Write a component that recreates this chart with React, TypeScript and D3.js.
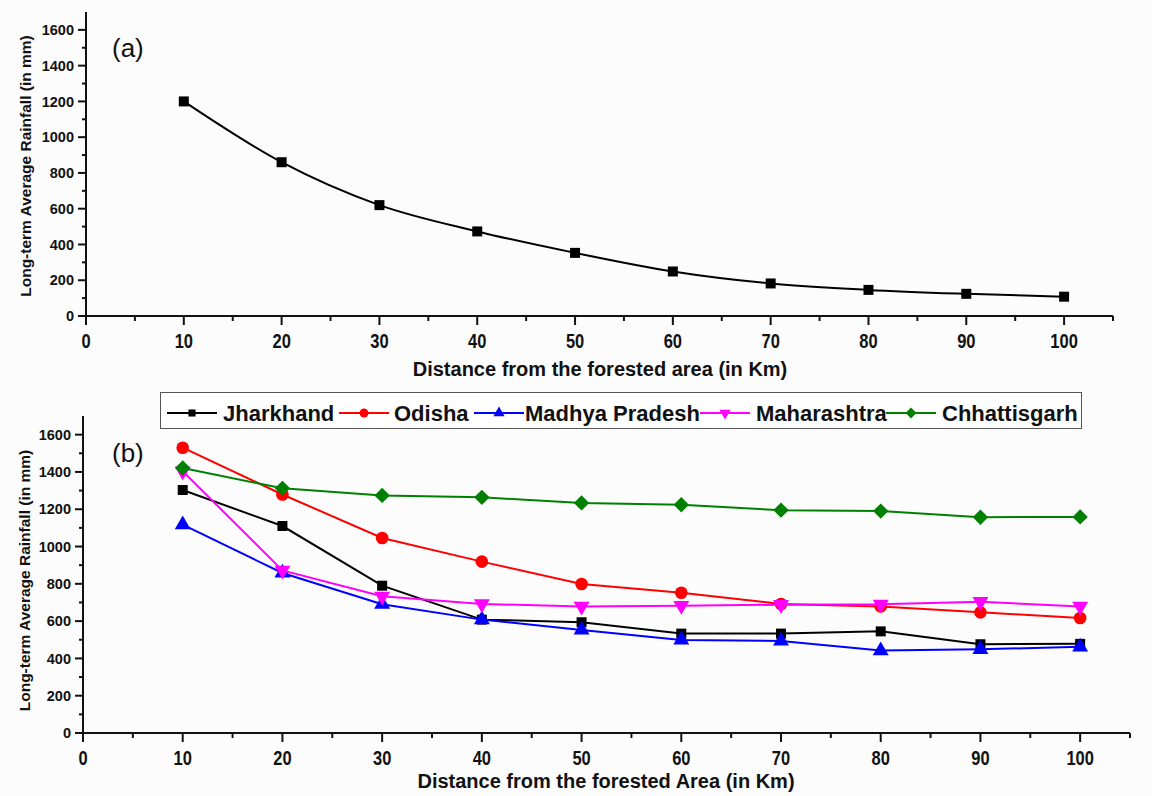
import React from "react";
import * as d3 from "d3";

const distances = [10, 20, 30, 40, 50, 60, 70, 80, 90, 100];
const overallRainfall = [1200, 860, 620, 473, 353, 249, 182, 146, 124, 108];

const seriesNames = ["Jharkhand", "Odisha", "Madhya Pradesh", "Maharashtra", "Chhattisgarh"];
const jharkhand = [1303, 1110, 790, 608, 594, 533, 533, 545, 476, 478];
const odisha = [1530, 1279, 1046, 919, 799, 752, 692, 679, 647, 617];
const madhyaPradesh = [1117, 858, 691, 608, 553, 499, 494, 442, 449, 462];
const maharashtra = [1404, 872, 733, 692, 679, 683, 688, 690, 704, 679];
const chhattisgarh = [1421, 1312, 1274, 1264, 1234, 1224, 1195, 1190, 1157, 1159];
const seriesValues = [jharkhand, odisha, madhyaPradesh, maharashtra, chhattisgarh];
const seriesColors = ["#000000", "#ff0000", "#0000ff", "#ff00ff", "#008000"];
const seriesShapes = ["square", "circle", "triangle", "triangleDown", "diamond"];

const xTicks = [0, 10, 20, 30, 40, 50, 60, 70, 80, 90, 100];
const yTicks = [0, 200, 400, 600, 800, 1000, 1200, 1400, 1600];

const FONT = "'Liberation Sans', Arial, sans-serif";

function markerPath(shape: string, big: boolean) {
  const k = big ? 1 : 0.5;
  switch (shape) {
    case "square":
      return d3.symbol(d3.symbolSquare, 100 * k)()!;
    case "circle":
      return d3.symbol(d3.symbolCircle, 125 * k)()!;
    case "triangle":
      return d3.symbol(d3.symbolTriangle, 110 * k)()!;
    case "triangleDown":
      return d3.symbol(d3.symbolTriangle, 110 * k)()!;
    default:
      return d3.symbol(d3.symbolDiamond2, 150 * k)()!;
  }
}

function Axes({ x, y, labelSize }: any) {
  const [x0, x1] = x.range();
  const [y0, y1] = y.range();
  const minorX = d3.range(0, 106, 5).filter((v) => v % 10 !== 0);
  const minorY = d3.range(100, 1700, 200);
  return (
    <g>
      <line x1={x0} x2={x1} y1={y0} y2={y0} stroke="#111" strokeWidth={2} />
      <line x1={x0} x2={x0} y1={y0 + 1} y2={y1} stroke="#111" strokeWidth={2} />
      {xTicks.map((t) => (
        <g key={"xt" + t}>
          <line x1={x(t)} x2={x(t)} y1={y0} y2={y0 + 9} stroke="#111" strokeWidth={2} />
          <text
            transform={`translate(${x(t)},${y0 + 32}) scale(1,1.17)`}
            textAnchor="middle"
            fontFamily={FONT}
            fontWeight="bold"
            fontSize={16.5}
            fill="#111"
          >
            {t}
          </text>
        </g>
      ))}
      {minorX.map((t) => (
        <line key={"xm" + t} x1={x(t)} x2={x(t)} y1={y0} y2={y0 + 5} stroke="#111" strokeWidth={2} />
      ))}
      {yTicks.map((t) => (
        <g key={"yt" + t}>
          <line x1={x0 - 8} x2={x0} y1={y(t)} y2={y(t)} stroke="#111" strokeWidth={2} />
          <text
            x={x0 - 12}
            y={y(t)}
            dy="0.36em"
            textAnchor="end"
            fontFamily={FONT}
            fontWeight="bold"
            fontSize={labelSize}
            fill="#111"
          >
            {t}
          </text>
        </g>
      ))}
      {minorY.map((t) => (
        <line key={"ym" + t} x1={x0 - 4} x2={x0} y1={y(t)} y2={y(t)} stroke="#111" strokeWidth={2} />
      ))}
    </g>
  );
}

export default function App() {
  // Panel (a)
  const xa = d3.scaleLinear().domain([0, 105]).range([86, 1113]);
  const ya = d3.scaleLinear().domain([0, 1700]).range([316, 12]);
  // Panel (b)
  const xb = d3.scaleLinear().domain([0, 105]).range([83, 1130]);
  const yb = d3.scaleLinear().domain([0, 1700]).range([733, 416]);

  const lineA = d3
    .line<number>()
    .x((_, i) => xa(distances[i]))
    .y((v) => ya(v))
    .curve(d3.curveMonotoneX);
  const lineB = d3
    .line<number>()
    .x((_, i) => xb(distances[i]))
    .y((v) => yb(v));

  const legendLineX = [167, 339, 474, 700, 886];
  const legendTextX = [223, 394, 525, 756, 942];
  const legendY = 413;

  return (
    <svg
      width={1152}
      height={796}
      style={{ position: "absolute", left: 0, top: 0, background: "#fcfcfc" }}
    >
      {/* Panel (a) */}
      <Axes x={xa} y={ya} labelSize={14.5} />
      <path d={lineA(overallRainfall)!} fill="none" stroke="#000" strokeWidth={2} />
      {overallRainfall.map((v, i) => (
        <path
          key={"a" + i}
          d={markerPath("square", true)}
          transform={`translate(${xa(distances[i])},${ya(v)})`}
          fill="#000"
        />
      ))}
      <text x={112} y={57} fontFamily={FONT} fontSize={26} fill="#111">
        (a)
      </text>
      <text
        x={600}
        y={376}
        textAnchor="middle"
        fontFamily={FONT}
        fontWeight="bold"
        fontSize={20}
        fill="#111"
      >
        Distance from the forested area (in Km)
      </text>
      <text
        transform={`translate(31,${(ya(0) + ya(1700)) / 2 + 2}) rotate(-90)`}
        textAnchor="middle"
        fontFamily={FONT}
        fontWeight="bold"
        fontSize={15.5}
        fill="#111"
      >
        Long-term Average Rainfall (in mm)
      </text>

      {/* Panel (b) */}
      <Axes x={xb} y={yb} labelSize={14.5} />
      {seriesValues.map((vals, s) => (
        <g key={"s" + s}>
          <path d={lineB(vals)!} fill="none" stroke={seriesColors[s]} strokeWidth={2} />
          {vals.map((v, i) => (
            <path
              key={i}
              d={markerPath(seriesShapes[s], true)}
              transform={`translate(${xb(distances[i])},${yb(v)})${
                seriesShapes[s] === "triangleDown" ? " rotate(180)" : ""
              }`}
              fill={seriesColors[s]}
            />
          ))}
        </g>
      ))}
      <text x={112} y={462} fontFamily={FONT} fontSize={26} fill="#111">
        (b)
      </text>
      <text
        x={606}
        y={788}
        textAnchor="middle"
        fontFamily={FONT}
        fontWeight="bold"
        fontSize={20}
        fill="#111"
      >
        Distance from the forested Area (in Km)
      </text>
      <text
        transform={`translate(30,${(yb(0) + yb(1700)) / 2 + 6}) rotate(-90)`}
        textAnchor="middle"
        fontFamily={FONT}
        fontWeight="bold"
        fontSize={15.5}
        fill="#111"
      >
        Long-term Average Rainfall (in mm)
      </text>

      {/* Legend */}
      <rect x={160.5} y={392.5} width={921} height={36} fill="#fff" stroke="#555" strokeWidth={1} />
      {seriesNames.map((name, s) => (
        <g key={"lg" + s}>
          <line
            x1={legendLineX[s]}
            x2={legendLineX[s] + 50}
            y1={legendY}
            y2={legendY}
            stroke={seriesColors[s]}
            strokeWidth={2}
          />
          <path
            d={markerPath(seriesShapes[s], false)}
            transform={`translate(${legendLineX[s] + 25},${legendY})${
              seriesShapes[s] === "triangleDown" ? " rotate(180)" : ""
            }`}
            fill={seriesColors[s]}
          />
          <text
            x={legendTextX[s]}
            y={legendY + 8}
            fontFamily={FONT}
            fontWeight="bold"
            fontSize={22}
            fill="#111"
          >
            {name}
          </text>
        </g>
      ))}
    </svg>
  );
}
